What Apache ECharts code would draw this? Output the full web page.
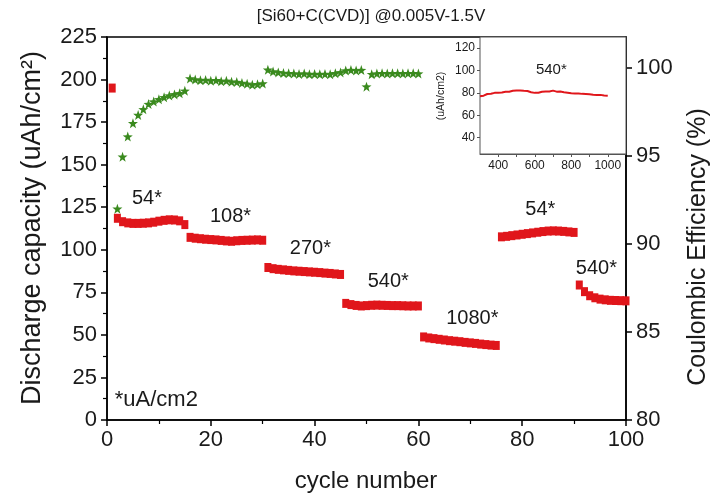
<!DOCTYPE html>
<html>
<head>
<meta charset="utf-8">
<script src="https://cdn.jsdelivr.net/npm/echarts@6/dist/echarts.min.js"></script>
<style>
  html, body { margin: 0; padding: 0; background: #fff; }
  #chart { width: 714px; height: 499px; }
</style>
</head>
<body>
<div id="chart"></div>
<script>
// Discharge capacity (uAh/cm2), cycles 1..100
const capacityCycles = Array.from({ length: 100 }, (_, i) => i + 1);
const capacity = [
  195,
  118.5, 116.5, 115.8, 115.5, 115.5, 115.6, 115.8, 116.2, 116.8, 117.3, 117.6, 117.5, 117.0, 114.8,
  107.3, 106.8, 106.5, 106.2, 106.0, 105.8, 105.5, 105.2, 105.0, 105.3, 105.5, 105.6, 105.7, 105.8, 105.6,
  89.6, 88.9, 88.5, 88.2, 87.9, 87.6, 87.4, 87.2, 87.0, 86.8, 86.6, 86.3, 86.1, 85.8, 85.5,
  68.5, 67.8, 67.3, 67.0, 67.2, 67.4, 67.5, 67.4, 67.3, 67.2, 67.2, 67.1, 67.0, 67.0, 67.0,
  48.8, 48.2, 47.8, 47.4, 47.0, 46.6, 46.3, 46.0, 45.6, 45.3, 45.0, 44.6, 44.3, 44.0, 43.8,
  107.6, 107.9, 108.3, 108.7, 109.1, 109.5, 109.9, 110.3, 110.7, 111.0, 111.1, 111.0, 110.8, 110.5, 110.2,
  79.3, 75.4, 73.0, 71.8, 71.0, 70.6, 70.3, 70.2, 70.1, 70.0
];

// Coulombic efficiency (%), cycles 2..60
const ceCycles = Array.from({ length: 59 }, (_, i) => i + 2);
const efficiency = [
  92.0, 94.96, 96.1, 96.86, 97.33, 97.65, 97.95, 98.09, 98.22, 98.33, 98.43, 98.5, 98.56, 98.7,
  99.4, 99.35, 99.3, 99.32, 99.28, 99.3, 99.25, 99.27, 99.22, 99.2, 99.15, 99.1, 99.05, 99.08, 99.12,
  99.9, 99.8, 99.75, 99.72, 99.7, 99.68, 99.66, 99.68, 99.65, 99.66, 99.64, 99.66, 99.65, 99.7, 99.75,
  99.85, 99.88, 99.86, 99.88, 98.94,
  99.65, 99.68, 99.7, 99.68, 99.7, 99.7, 99.68, 99.7, 99.7, 99.68
];

// Long-term cycling at 540 uA/cm2 (inset)
const insetCycles = Array.from({ length: 71 }, (_, i) => 300 + i * 10);
const insetCapacity = [
  77, 76.5, 77.5, 78.5, 79, 79.5, 79.2, 79.8, 80, 79.7,
  80.2, 80.5, 80.3, 80.8, 81, 81.2, 81, 81.5, 81.8, 81.6,
  82, 82.3, 82.1, 82.2, 81.8, 81.5, 81.7, 81.2, 80.6, 80.2,
  80, 80.3, 80.1, 80.6, 81, 80.8, 81.2, 81.5, 81.3, 81.6,
  82, 81.4, 81.1, 80.9, 81.2, 80.8, 80.5, 80.6, 80.2, 80.0,
  79.7, 79.9, 79.5, 79.2, 79.4, 78.9, 79.1, 78.8, 79, 78.6,
  78.8, 78.5, 78.3, 78.5, 78.2, 78, 78.2, 77.8, 77.6, 77.7, 77.4
];

// Current-density labels for each step, with their anchor points in data space
const rateLabels = ['54*', '108*', '270*', '540*', '1080*', '54*', '540*'];
const rateAnchorX = [7.7, 23.8, 39.2, 54.2, 70.4, 83.5, 94.3];
const rateAnchorY = [130, 119.5, 100.5, 81.5, 59.5, 123.5, 89];

const insetXTicks = [400, 600, 800, 1000];
const insetXMinor = [400, 500, 600, 700, 800, 900, 1000];
const insetYTicks = [40, 60, 80, 100, 120];

const FONT = 'Liberation Sans, Arial, sans-serif';
const INK = '#1a1a1a';
const RED = '#e0161b';
const GREEN = '#3a8a1e';

const chart = echarts.init(document.getElementById('chart'));

const option = {
  animation: false,
  backgroundColor: '#fff',
  title: {
    text: '[Si60+C(CVD)] @0.005V-1.5V',
    left: 366, top: 3, textAlign: 'center',
    textStyle: { fontFamily: FONT, fontSize: 17, fontWeight: 'normal', color: INK }
  },
  grid: [
    { left: 107, right: 88, top: 37, bottom: 79, show: true, borderColor: '#000', borderWidth: 1.5,
      backgroundColor: 'transparent', outerBoundsMode: 'none' },
    { left: 480, right: 88, top: 37, bottom: 345, show: true, borderColor: '#555', borderWidth: 1,
      backgroundColor: '#fff', z: 5, outerBoundsMode: 'none' }
  ],
  xAxis: [
    {
      gridIndex: 0, type: 'value', min: 0, max: 100, interval: 20,
      axisLine: { show: true, onZero: false, lineStyle: { color: '#000', width: 1.5 } },
      axisTick: { show: true, length: 6, lineStyle: { color: '#000', width: 1.5 } },
      minorTick: { show: true, splitNumber: 2, length: 4, lineStyle: { color: '#000', width: 1.2 } },
      splitLine: { show: false },
      axisLabel: { fontFamily: FONT, fontSize: 22, color: INK, margin: 9 }
    },
    {
      gridIndex: 1, type: 'value', min: 300, max: 1100,
      axisLine: { show: true, onZero: false, lineStyle: { color: '#555', width: 1 } },
      axisTick: { show: true, length: 3, customValues: insetXMinor, lineStyle: { color: '#555' } },
      splitLine: { show: false },
      axisLabel: { fontFamily: FONT, fontSize: 12, color: INK, margin: 6, customValues: insetXTicks,
        formatter: v => String(v) }
    }
  ],
  yAxis: [
    {
      gridIndex: 0, type: 'value', min: 0, max: 225, interval: 25, position: 'left',
      axisLine: { show: true, onZero: false, lineStyle: { color: '#000', width: 1.5 } },
      axisTick: { show: true, length: 6, lineStyle: { color: '#000', width: 1.5 } },
      minorTick: { show: true, splitNumber: 2, length: 4, lineStyle: { color: '#000', width: 1.2 } },
      splitLine: { show: false },
      axisLabel: { fontFamily: FONT, fontSize: 22, color: INK, margin: 10 }
    },
    {
      gridIndex: 0, type: 'value', min: 80, max: 101.76, interval: 5, position: 'right',
      axisLine: { show: true, onZero: false, lineStyle: { color: '#000', width: 1.5 } },
      axisTick: { show: true, length: 6, lineStyle: { color: '#000', width: 1.5 } },
      splitLine: { show: false },
      axisLabel: { fontFamily: FONT, fontSize: 22, color: INK, margin: 10, showMaxLabel: false }
    },
    {
      gridIndex: 1, type: 'value', min: 25.5, max: 129.8,
      axisLine: { show: true, onZero: false, lineStyle: { color: '#555', width: 1 } },
      axisTick: { show: true, length: 3, customValues: insetYTicks, lineStyle: { color: '#555' } },
      splitLine: { show: false },
      axisLabel: { fontFamily: FONT, fontSize: 12, color: INK, margin: 5, customValues: insetYTicks }
    }
  ],
  // axis titles
  graphic: [
    { type: 'text', x: 366, y: 481, silent: true,
      style: { text: 'cycle number', font: '24px ' + FONT, fill: INK, align: 'center', verticalAlign: 'middle' } },
    { type: 'text', x: 33, y: 228, rotation: Math.PI / 2, silent: true,
      style: { text: 'Discharge capacity (uAh/cm²)', font: '27px ' + FONT, fill: INK, align: 'center', verticalAlign: 'middle' } },
    { type: 'text', x: 698, y: 247, rotation: Math.PI / 2, silent: true,
      style: { text: 'Coulombic Efficiency (%)', font: '25px ' + FONT, fill: INK, align: 'center', verticalAlign: 'middle' } },
    { type: 'text', x: 441, y: 96, rotation: Math.PI / 2, silent: true, z: 10,
      style: { text: '(uAh/cm2)', font: '10.5px ' + FONT, fill: INK, align: 'center', verticalAlign: 'middle' } }
  ],
  series: [
    {
      name: 'capacity', type: 'scatter', xAxisIndex: 0, yAxisIndex: 0,
      symbol: 'rect', symbolSize: [7, 9],
      itemStyle: { color: RED, opacity: 1 },
      data: capacityCycles.map((c, i) => [c, capacity[i]]),
      z: 3
    },
    {
      name: 'efficiency', type: 'scatter', xAxisIndex: 0, yAxisIndex: 1,
      symbol: 'path://M0,-10 L2.35,-3.24 L9.51,-3.09 L3.8,1.24 L5.88,8.09 L0,4 L-5.88,8.09 L-3.8,1.24 L-9.51,-3.09 L-2.35,-3.24 Z',
      symbolSize: 10,
      itemStyle: { color: GREEN, opacity: 1 },
      data: ceCycles.map((c, i) => [c, efficiency[i]]),
      z: 4
    },
    {
      name: 'rates', type: 'scatter', xAxisIndex: 0, yAxisIndex: 0,
      symbolSize: 0, silent: true,
      itemStyle: { opacity: 1 },
      label: {
        show: true, position: 'inside', fontFamily: FONT, fontSize: 20, color: INK,
        formatter: p => p.data[2]
      },
      data: rateLabels.map((t, i) => [rateAnchorX[i], rateAnchorY[i], t]),
      z: 4
    },
    {
      name: 'unit note', type: 'scatter', xAxisIndex: 0, yAxisIndex: 0,
      symbolSize: 0, silent: true,
      itemStyle: { opacity: 1 },
      label: {
        show: true, position: 'inside', align: 'left', fontFamily: FONT, fontSize: 22, color: INK,
        formatter: p => p.data[2]
      },
      data: [[1.5, 11.5, '*uA/cm2']],
      z: 4
    },
    {
      name: 'inset capacity', type: 'line', xAxisIndex: 1, yAxisIndex: 2,
      showSymbol: false, symbol: 'none',
      lineStyle: { color: RED, width: 2 },
      data: insetCycles.map((c, i) => [c, insetCapacity[i]]),
      z: 7
    },
    {
      name: 'inset rate', type: 'scatter', xAxisIndex: 1, yAxisIndex: 2,
      symbolSize: 0, silent: true,
      itemStyle: { opacity: 1 },
      label: {
        show: true, position: 'inside', fontFamily: FONT, fontSize: 15, color: INK,
        formatter: p => p.data[2]
      },
      data: [[691, 100.5, '540*']],
      z: 7
    }
  ]
};

chart.setOption(option);
</script>
</body>
</html>
